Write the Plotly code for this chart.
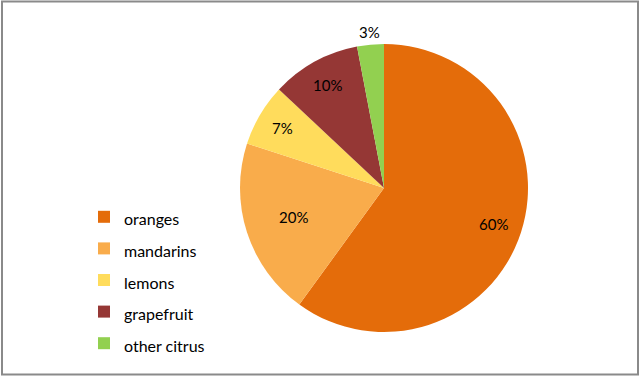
import numpy as np
import plotly.graph_objects as go

categories = ["oranges", "mandarins", "lemons", "grapefruit", "other citrus"]
shares = [60, 20, 7, 10, 3]
colors = ["#E46C0A", "#F9AC4B", "#FFDC5C", "#953735", "#92D050"]
# radial placement of each percentage label (fraction of the pie radius)
label_radius = [0.80, 0.66, 0.82, 0.82, 1.09]

vals = np.array(shares, dtype=float)
frac = vals / vals.sum()
mid = 2 * np.pi * (np.cumsum(frac) - frac / 2)  # clockwise from 12 o'clock
lx = np.array(label_radius) * np.sin(mid)
ly = np.array(label_radius) * np.cos(mid)
label_text = [f"{round(f * 100):.0f}%" for f in frac]

# pie: centre (384, 188), radius 144 px
dom_x = [240 / 640, 528 / 640]
dom_y = [(376 - 332) / 376, (376 - 44) / 376]
R = 1.2  # label axes cover +-1.2 pie radii
ax_x = [(384 - R * 144) / 640, (384 + R * 144) / 640]
ax_y = [(376 - 188 - R * 144) / 376, (376 - 188 + R * 144) / 376]

fig = go.Figure()
fig.add_trace(
    go.Pie(
        labels=[f'<span style="font-size:16px">{c}</span>' for c in categories],
        values=shares,
        sort=False,
        direction="clockwise",
        rotation=0,
        marker=dict(colors=colors, line=dict(color="white", width=0)),
        textinfo="none",
        domain=dict(x=dom_x, y=dom_y),
        showlegend=True,
        hoverinfo="label+percent",
    )
)
# invisible helper trace establishing the label coordinate system
fig.add_trace(
    go.Scatter(x=lx, y=ly, mode="markers", marker=dict(opacity=0),
               showlegend=False, hoverinfo="skip")
)

annotations = [
    dict(x=float(x), y=float(y), xref="x", yref="y", text=t, showarrow=False,
         xanchor="center", yanchor="middle",
         font=dict(family="Lato", size=15, color="black"))
    for x, y, t in zip(lx, ly, label_text)
]

fig.update_layout(
    width=640,
    height=376,
    margin=dict(l=0, r=0, t=0, b=0),
    paper_bgcolor="white",
    plot_bgcolor="rgba(0,0,0,0)",
    font=dict(family="Lato", size=16, color="black"),
    xaxis=dict(domain=ax_x, range=[-R, R], visible=False, fixedrange=True),
    yaxis=dict(domain=ax_y, range=[-R, R], visible=False, fixedrange=True),
    legend=dict(
        x=84 / 640,
        xanchor="left",
        y=(376 - 196) / 376,
        yanchor="top",
        font=dict(family="Lato", size=22, color="black"),
        itemwidth=30,
        bgcolor="rgba(0,0,0,0)",
    ),
    annotations=annotations,
    shapes=[
        dict(type="rect", xref="paper", yref="paper",
             x0=2 / 640, x1=638 / 640, y0=1.5 / 376, y1=374.5 / 376,
             line=dict(color="#8A8A8A", width=2)),
    ],
)

fig.write_html("out.html", config={"displayModeBar": False},
               post_script="document.body.style.margin='0';document.body.style.overflow='hidden';")
